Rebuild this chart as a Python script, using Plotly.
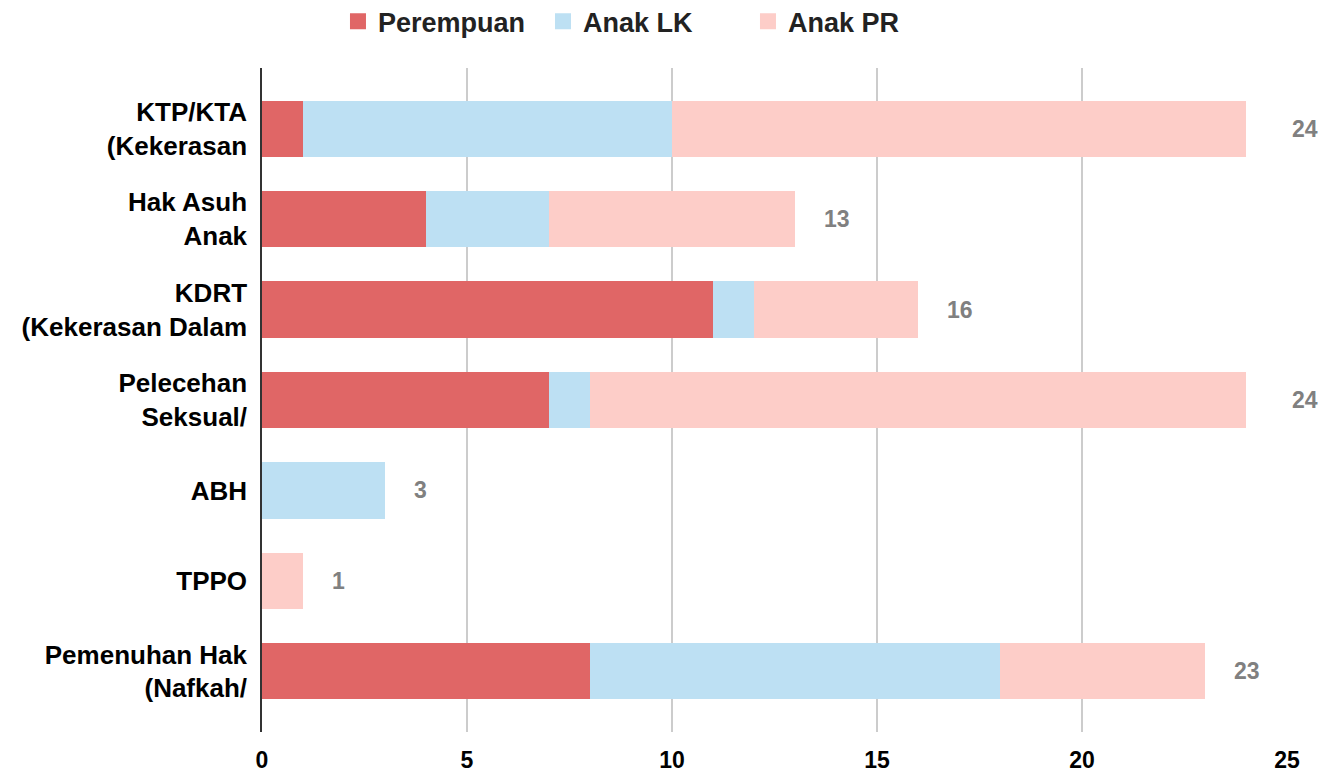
import plotly.graph_objects as go

# categories (top to bottom) and counts per group
categories = [
    "KTP/KTA<br>(Kekerasan",
    "Hak Asuh<br>Anak",
    "KDRT<br>(Kekerasan Dalam",
    "Pelecehan<br>Seksual/",
    "ABH",
    "TPPO",
    "Pemenuhan Hak<br>(Nafkah/",
]
perempuan = [1, 4, 11, 7, 0, 0, 8]
anak_lk = [9, 3, 1, 1, 3, 0, 10]
anak_pr = [14, 6, 4, 16, 0, 1, 5]
x_ticks = [0, 5, 10, 15, 20, 25]

series = [
    ("Perempuan", perempuan, "#e06666"),
    ("Anak LK", anak_lk, "#bde0f3"),
    ("Anak PR", anak_pr, "#fdcdc8"),
]

totals = [a + b + c for a, b, c in zip(perempuan, anak_lk, anak_pr)]
ypos = list(range(len(categories)))
x_max = x_ticks[-1]
px_per_unit = 1025 / x_max  # plot width / range

fig = go.Figure()
for name, vals, color in series:
    fig.add_trace(go.Bar(
        y=ypos, x=vals, name=name, orientation="h",
        marker=dict(color=color, line=dict(width=0)),
        width=0.62, showlegend=False, hoverinfo="x+name",
    ))
    # larger legend swatch
    fig.add_trace(go.Scatter(
        x=[None], y=[None], mode="markers", name=name,
        marker=dict(symbol="square", size=16, color=color),
    ))

for y, t in zip(ypos, totals):
    shift = 27
    # keep the label clear of the last gridline
    if (x_max - t) * px_per_unit < shift + 30:
        shift = (x_max - t) * px_per_unit + 3
    fig.add_annotation(
        x=t, y=y, text=str(t), showarrow=False, xanchor="left", xshift=shift,
        font=dict(family="Liberation Sans, Arial", size=23, color="#808080",
                  weight="bold"),
    )

fig.update_layout(
    width=1320, height=773,
    margin=dict(l=262, r=33, t=68, b=41),
    plot_bgcolor="white", paper_bgcolor="white",
    barmode="stack",
    font=dict(family="Liberation Sans, Arial", size=20, color="#000000"),
    legend=dict(
        orientation="h", xref="container", yref="container",
        x=0.489, xanchor="center", y=0.972, yanchor="middle",
        font=dict(size=27, color="#222222", weight="bold"),
        itemwidth=30, traceorder="normal",
        entrywidth=160, entrywidthmode="pixels",
    ),
    xaxis=dict(
        range=[0, x_max], tickvals=x_ticks, showgrid=True, gridcolor="#cccccc",
        gridwidth=1.5, zeroline=False, showline=False,
        tickfont=dict(size=23, weight="bold", color="#000000"),
        ticks="", fixedrange=True, ticklabelstandoff=12, automargin=False,
    ),
    yaxis=dict(
        range=[6.67, -0.67], tickvals=ypos, ticktext=categories,
        showgrid=False, zeroline=False, showline=True, linecolor="#333333",
        linewidth=1.5, ticklabelstandoff=8, automargin=False,
        tickfont=dict(size=26, weight="bold", color="#000000"),
    ),
)

# drop the default page margin so the chart fills the window exactly
fig.write_html("out.html", config={"displayModeBar": False},
               post_script="document.body.style.margin='0';")
